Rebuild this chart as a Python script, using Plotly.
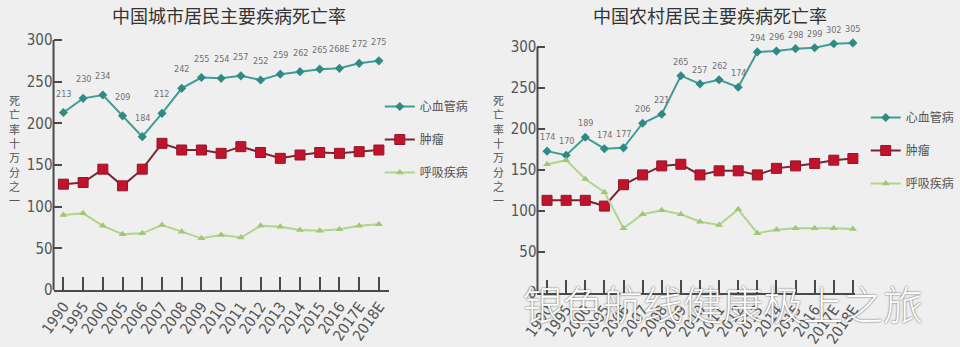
import plotly.graph_objects as go

years = ["1990", "1995", "2000", "2005", "2006", "2007", "2008", "2009", "2010",
         "2011", "2012", "2013", "2014", "2015", "2016", "2017E", "2018E"]

series_names = ["心血管病", "肿瘤", "呼吸疾病"]

# 城市 (urban)
urban_cardio = [213, 230, 234, 209, 184, 212, 242, 255, 254, 257, 252, 259, 262, 265, 266, 272, 275]
urban_cardio_labels = ["213", "230", "234", "209", "184", "212", "242", "255", "254", "257",
                       "252", "259", "262", "265", "268E", "272", "275"]
urban_tumor = [127, 129, 145, 125, 145, 176, 168, 168, 164, 172, 165, 158, 162, 165, 164, 166, 168]
urban_resp = [90, 92, 77, 67, 68, 78, 70, 62, 66, 63, 77, 76, 72, 71, 73, 77, 79]

# 农村 (rural)
rural_cardio = [173, 168, 190, 176, 177, 207, 218, 265, 255, 260, 251, 294, 295, 298, 299, 304, 305]
rural_cardio_labels = ["174", "170", "189", "174", "177", "206", "221", "265", "257", "262",
                       "174", "294", "296", "298", "299", "302", "305"]
rural_tumor = [113, 113, 113, 106, 132, 144, 155, 157, 144, 149, 149, 144, 152, 155, 158, 162, 164]
rural_resp = [157, 162, 139, 123, 79, 96, 101, 96, 87, 83, 102, 73, 77, 79, 79, 79, 78]

titles = ["中国城市居民主要疾病死亡率", "中国农村居民主要疾病死亡率"]
ytitle = "死亡率十万分之一"
yticks = [0, 50, 100, 150, 200, 250, 300]
watermark = "银色航线健康极上之旅"

TEAL = "#3f9d96"
TEAL_M = "#2f8a84"
RED_L = "#7c2433"
RED_M = "#c3122c"
GREEN = "#b2d58c"
AX = "#4a4a4a"

NUM = "Liberation Sans Narrow, DejaVu Sans Condensed, Arial Narrow, sans-serif"
CJK = "Noto Sans CJK SC, sans-serif"

YMAX = 308  # room above the 300 tick so the highest points are not clipped

fig = go.Figure()

panels = [
    dict(x="x", y="y", leg="legend", c=urban_cardio, t=urban_tumor, r=urban_resp,
         lab=urban_cardio_labels, shift=19),
    dict(x="x2", y="y2", leg="legend2", c=rural_cardio, t=rural_tumor, r=rural_resp,
         lab=rural_cardio_labels, shift=14),
]

annotations = []
shapes = []
for i, p in enumerate(panels):
    fig.add_trace(go.Scatter(
        x=years, y=p["c"], xaxis=p["x"], yaxis=p["y"], name=series_names[0],
        mode="lines+markers", legend=p["leg"], legendgroup=f"g{i}a",
        line=dict(color=TEAL, width=2),
        marker=dict(symbol="diamond", size=7, color=TEAL_M),
        cliponaxis=False))
    fig.add_trace(go.Scatter(
        x=years, y=p["t"], xaxis=p["x"], yaxis=p["y"], name=series_names[1],
        mode="lines+markers", legend=p["leg"], legendgroup=f"g{i}b",
        line=dict(color=RED_L, width=2),
        marker=dict(symbol="square", size=10, color=RED_M, line=dict(color="#8e1a28", width=1)),
        cliponaxis=False))
    fig.add_trace(go.Scatter(
        x=years, y=p["r"], xaxis=p["x"], yaxis=p["y"], name=series_names[2],
        mode="lines+markers", legend=p["leg"], legendgroup=f"g{i}c",
        line=dict(color=GREEN, width=2),
        marker=dict(symbol="triangle-up", size=7, color="#9fc874"),
        cliponaxis=False))
    for k, (yv, lb) in enumerate(zip(p["c"], p["lab"])):
        annotations.append(dict(
            x=k, y=yv, xref=p["x"], yref=p["y"], text=lb, showarrow=False,
            xanchor="center", yanchor="middle",
            yshift=p["shift"], font=dict(family=NUM, size=9, color="#707070")))
    # y-axis line from 0 up to the 300 tick
    shapes.append(dict(type="line", xref=f"{p['x']} domain", yref=p["y"],
                       x0=0, x1=0, y0=0, y1=yticks[-1],
                       line=dict(color=AX, width=2)))

# titles
for xc, tt in ((231, titles[0]), (716, titles[1])):
    annotations.append(dict(x=xc / 960, y=1 - 15 / 347, xref="paper", yref="paper",
                            text=tt, showarrow=False, xanchor="center", yanchor="middle",
                            font=dict(family=CJK, size=18, color="#333333")))
# vertical y titles
vt = "<br>".join(list(ytitle))
for xc in (15, 503):
    annotations.append(dict(x=xc / 960, y=1 - 150 / 347, xref="paper", yref="paper",
                            text=vt, showarrow=False, xanchor="center", yanchor="middle",
                            font=dict(family=CJK, size=11, color="#555555")))
# watermark
annotations.append(dict(x=729 / 960, y=1 - 303 / 347, xref="paper", yref="paper",
                        text=watermark, showarrow=False, xanchor="center", yanchor="middle",
                        font=dict(family=CJK, size=40, color="#ffffff", weight=300,
                                  shadow="0px 0px 2px #444444")))

xcommon = dict(showline=True, linecolor=AX, linewidth=2, showgrid=False,
               zeroline=False, ticks="inside", tickcolor=AX, tickwidth=2,
               automargin=False, type="category", ticklen=13, tickangle=-55,
               tickfont=dict(family=NUM, size=15, color="#555555"))
ycommon = dict(showline=False, showgrid=False, zeroline=False, ticks="inside",
               tickcolor=AX, tickwidth=2, automargin=False, range=[0, YMAX],
               tickvals=yticks, ticklen=8,
               tickfont=dict(family=NUM, size=15, color="#555555"))

# pixel geometry: y=0 and y=300 rows for each panel
L0, L300 = 290, 40
R0, R300 = 293, 47
Ltop = L0 - (L0 - L300) * YMAX / 300
Rtop = R0 - (R0 - R300) * YMAX / 300

fig.update_layout(
    width=960, height=347,
    margin=dict(l=0, r=0, t=0, b=0, pad=0),
    paper_bgcolor="#efefef", plot_bgcolor="rgba(0,0,0,0)",
    showlegend=True,
    xaxis=dict(domain=[54 / 960, 392 / 960], anchor="y", range=[-0.5, 16.5], **xcommon),
    yaxis=dict(domain=[1 - L0 / 347, 1 - Ltop / 347], anchor="x", **ycommon),
    xaxis2=dict(domain=[542 / 960, 862 / 960], anchor="y2", range=[-0.5, 16.1], **xcommon),
    yaxis2=dict(domain=[1 - R0 / 347, 1 - Rtop / 347], anchor="x2", **ycommon),
    legend=dict(x=383 / 960, y=1 - 92 / 347, xanchor="left", yanchor="top",
                bgcolor="rgba(0,0,0,0)", tracegroupgap=14,
                font=dict(family=CJK, size=12, color="#555555")),
    legend2=dict(x=873 / 960, y=1 - 103 / 347, xanchor="left", yanchor="top",
                 bgcolor="rgba(0,0,0,0)", tracegroupgap=14,
                 font=dict(family=CJK, size=12, color="#555555")),
    annotations=annotations,
    shapes=shapes,
)

fig.write_html("out.html")
